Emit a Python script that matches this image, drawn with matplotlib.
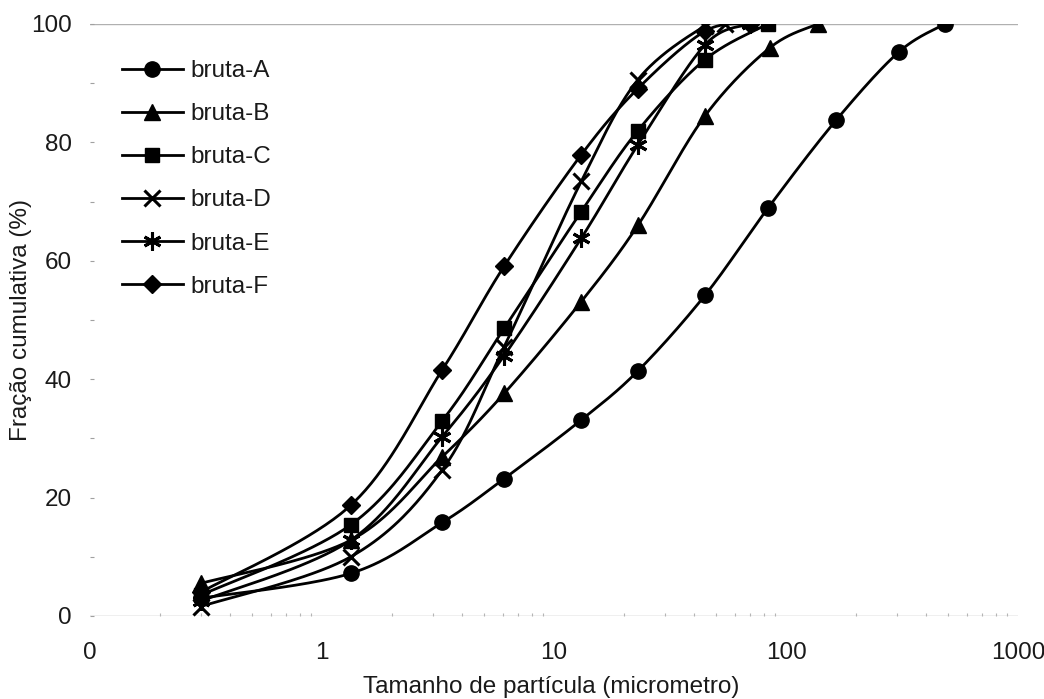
import numpy as np
import matplotlib
matplotlib.use("Agg")
import matplotlib.pyplot as plt
from matplotlib.lines import Line2D

plt.rcParams["font.family"] = ["Liberation Sans", "DejaVu Sans"]

# Cumulative particle-size distributions of the raw samples
series_names = ["bruta-A", "bruta-B", "bruta-C", "bruta-D", "bruta-E", "bruta-F"]

size_A = [0.3, 1.33, 3.3, 6.1, 13.1, 23, 44.8, 83.6, 164, 307, 484]
frac_A = [3.0, 7.2, 15.8, 23.2, 33.1, 41.4, 54.2, 68.9, 83.7, 95.3, 100]

size_B = [0.3, 1.33, 3.3, 6.1, 13.1, 23, 44.8, 85.3, 137]
frac_B = [5.5, 12.8, 26.9, 37.6, 53.1, 66.0, 84.5, 96.0, 100]

size_C = [0.3, 1.33, 3.3, 6.1, 13.1, 23, 44.8, 83.6]
frac_C = [3.5, 15.4, 33.0, 48.6, 68.3, 82.0, 94.0, 100]

size_D = [0.3, 1.33, 3.3, 6.1, 13.1, 23, 44.8, 54.6]
frac_D = [1.6, 10.0, 24.7, 45.5, 73.4, 90.6, 99.7, 100]

size_E = [0.3, 1.33, 3.3, 6.1, 13.1, 23, 44.8, 70]
frac_E = [2.5, 12.8, 30.3, 44.0, 63.8, 79.6, 96.5, 100]

size_F = [0.3, 1.33, 3.3, 6.1, 13.1, 23, 44.8, 70]
frac_F = [4.0, 18.7, 41.6, 59.1, 77.9, 89.1, 98.8, 100]

x_ticks = [0.1, 1, 10, 100, 1000]
x_tick_labels = ["0", "1", "10", "100", "1000"]
y_ticks = [0, 20, 40, 60, 80, 100]

marker_styles = [
    dict(marker="o", markersize=11, markerfacecolor="black", markeredgecolor="black"),
    dict(marker="^", markersize=12, markerfacecolor="black", markeredgecolor="black"),
    dict(marker="s", markersize=10.5, markerfacecolor="black", markeredgecolor="black"),
    dict(marker="x", markersize=12, markeredgewidth=2.2, markeredgecolor="black"),
    dict(marker=(6, 2, 0), markersize=13, markeredgewidth=2.2, markeredgecolor="black"),
    dict(marker="D", markersize=9, markerfacecolor="black", markeredgecolor="black"),
]

fig = plt.figure(figsize=(10.44, 6.99), dpi=100)
ax = fig.add_axes([90 / 1044, (699 - 616) / 699, 928 / 1044, 592 / 699])
ax.set_xscale("log")
ax.set_xlim(0.1, 1000)
ax.set_ylim(0, 100)


def smooth_curve(ax, xs, ys, steps=40):
    """Bezier smoothing in screen space (control points at 1/6 of the
    neighbouring chord), mapped back to data coordinates."""
    pts = ax.transData.transform(np.column_stack([xs, ys]))
    n = len(pts)
    ext = np.vstack([pts[0], pts, pts[-1]])
    t = np.linspace(0, 1, steps)[:, None]
    out = []
    for i in range(n - 1):
        p0 = ext[i + 1]
        p3 = ext[i + 2]
        c1 = p0 + (ext[i + 2] - ext[i]) / 6.0
        c2 = p3 - (ext[i + 3] - ext[i + 1]) / 6.0
        seg = ((1 - t) ** 3) * p0 + 3 * ((1 - t) ** 2) * t * c1 \
            + 3 * (1 - t) * t ** 2 * c2 + t ** 3 * p3
        out.append(seg if i == 0 else seg[1:])
    curve = np.vstack(out)
    return ax.transData.inverted().transform(curve)


all_sizes = [size_A, size_B, size_C, size_D, size_E, size_F]
all_fracs = [frac_A, frac_B, frac_C, frac_D, frac_E, frac_F]

# reference lines at 0 % and 100 %
for yv in (0, 100):
    ax.axhline(yv, color="#b0b0b0", lw=1.0, zorder=1)

handles = []
for name, xs, ys, ms in zip(series_names, all_sizes, all_fracs, marker_styles):
    curve = smooth_curve(ax, xs, ys)
    ax.plot(curve[:, 0], curve[:, 1], color="black", lw=2.0, zorder=2,
            solid_capstyle="round")
    ax.plot(xs, ys, linestyle="none", zorder=3, **ms)
    handles.append(Line2D([], [], color="black", lw=2.0, label=name, **ms))

for s in ax.spines.values():
    s.set_visible(False)

ax.set_xticks(x_ticks)
ax.set_xticklabels(x_tick_labels)
ax.set_yticks(y_ticks)
ax.set_yticks(np.arange(10, 100, 20), minor=True)
ax.tick_params(axis="x", which="major", length=0, pad=19, labelsize=17.5,
               labelcolor="#1a1a1a")
ax.tick_params(axis="x", which="minor", length=2.5, direction="in",
               color="#b5b5b5", width=0.8)
ax.tick_params(axis="y", which="both", length=3, direction="in",
               color="#a0a0a0", width=0.8, pad=13, labelsize=17.5,
               labelcolor="#1a1a1a")

ax.set_xlabel("Tamanho de partícula (micrometro)", fontsize=17.5, color="#1a1a1a")
ax.xaxis.set_label_coords(0.497, -0.102)
ax.set_ylabel("Fração cumulativa (%)", fontsize=17.5, color="#1a1a1a")
ax.yaxis.set_label_coords(-0.062, 0.5)

fig.legend(handles=handles, loc="upper left",
           bbox_to_anchor=(122 / 1044, 1 - 60 / 699),
           frameon=False, fontsize=17.5, handlelength=2.5,
           handletextpad=0.33, labelspacing=0.87, borderpad=0,
           borderaxespad=0, labelcolor="#1a1a1a")

fig.savefig("out.png", dpi=100)
